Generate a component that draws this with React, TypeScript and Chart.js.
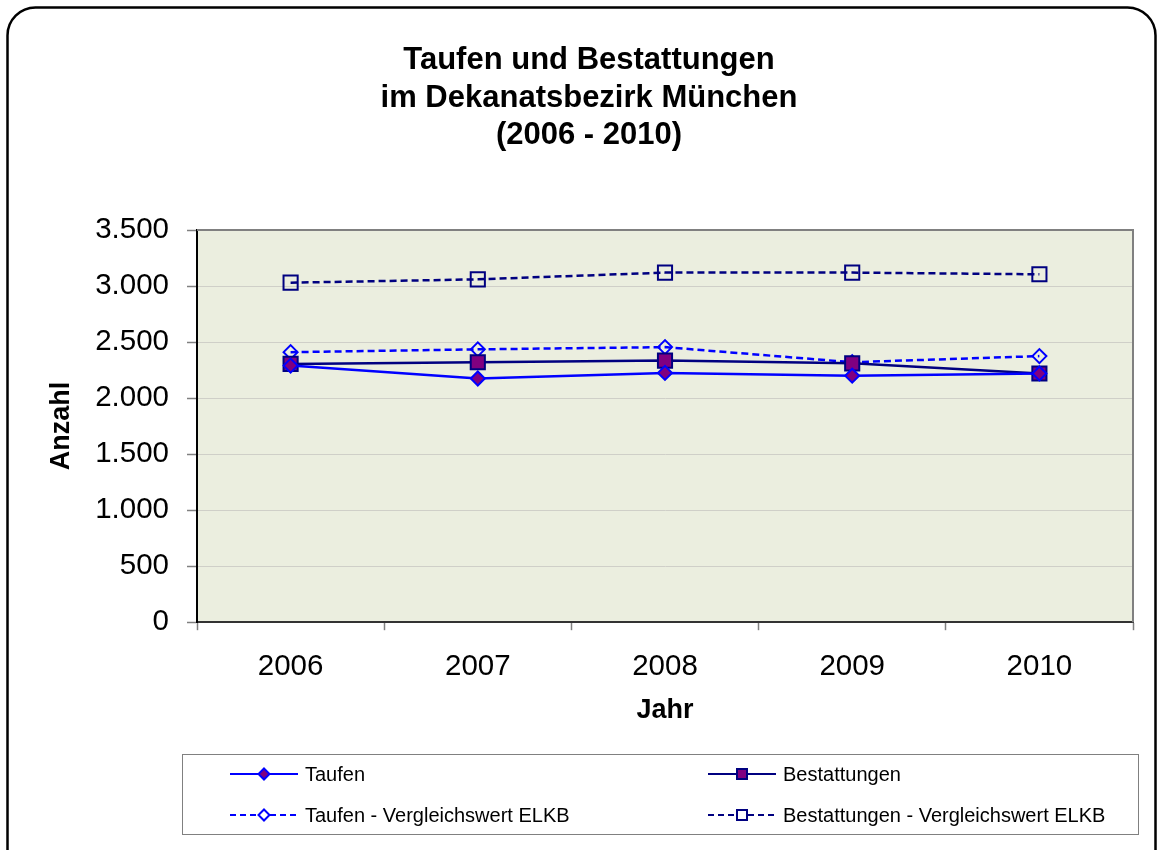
import React, { useEffect, useRef } from "react";
import { Chart, registerables } from "chart.js";

Chart.register(...registerables);

const years = ["2006", "2007", "2008", "2009", "2010"];
const taufen = [2290, 2175, 2225, 2200, 2220];
const bestattungen = [2305, 2320, 2335, 2310, 2220];
const taufenELKB = [2410, 2435, 2455, 2320, 2375];
const bestattungenELKB = [3030, 3060, 3120, 3120, 3105];
const seriesNames = [
  "Taufen",
  "Bestattungen",
  "Taufen - Vergleichswert ELKB",
  "Bestattungen - Vergleichswert ELKB",
];
const titleLines = ["Taufen und Bestattungen", "im Dekanatsbezirk München", "(2006 - 2010)"];
const yTitle = "Anzahl";
const xTitle = "Jahr";

const FONT = "'Liberation Sans', Arial, sans-serif";
const BLUE = "#0000FF";
const NAVY = "#000080";
const PURPLE = "#800080";

function fmt(v: number) {
  const s = Math.round(v).toString();
  return s.replace(/\B(?=(\d{3})+(?!\d))/g, ".");
}

const frameAndPlot = {
  id: "frameAndPlot",
  beforeDraw(chart: any) {
    const { ctx, chartArea } = chart;
    ctx.save();
    ctx.fillStyle = "#fff";
    ctx.fillRect(0, 0, chart.width, chart.height);
    ctx.strokeStyle = "#000";
    ctx.lineWidth = 2.5;
    ctx.beginPath();
    ctx.roundRect(7.5, 7.5, 1148, 900, 28);
    ctx.stroke();
    ctx.fillStyle = "#EBEEDF";
    ctx.fillRect(chartArea.left, chartArea.top, chartArea.right - chartArea.left, chartArea.bottom - chartArea.top);
    ctx.restore();
  },
  afterDatasetsDraw(chart: any) {
    const { ctx, chartArea } = chart;
    ctx.save();
    ctx.strokeStyle = "#808080";
    ctx.lineWidth = 2;
    ctx.beginPath();
    ctx.moveTo(chartArea.left, chartArea.top);
    ctx.lineTo(chartArea.right, chartArea.top);
    ctx.lineTo(chartArea.right, chartArea.bottom);
    ctx.stroke();
    ctx.restore();
  },
  afterDraw(chart: any) {
    const { ctx } = chart;
    ctx.save();
    ctx.strokeStyle = "#808080";
    ctx.lineWidth = 1;
    ctx.strokeRect(182.5, 754.5, 956, 80);
    const cols = [230, 708];
    const rows = [774, 815];
    chart.data.datasets.forEach((ds: any, i: number) => {
      const x = cols[i % 2];
      const y = rows[Math.floor(i / 2)];
      ctx.strokeStyle = ds.borderColor;
      ctx.lineWidth = 2;
      ctx.setLineDash(ds.borderDash ? [6, 4] : []);
      ctx.beginPath();
      ctx.moveTo(x, y);
      ctx.lineTo(x + 68, y);
      ctx.stroke();
      ctx.setLineDash([]);
      const cx = x + 34;
      ctx.beginPath();
      if (ds.pointStyle === "rectRot") {
        const r = 5.5;
        ctx.moveTo(cx, y - r);
        ctx.lineTo(cx + r, y);
        ctx.lineTo(cx, y + r);
        ctx.lineTo(cx - r, y);
        ctx.closePath();
      } else {
        ctx.rect(cx - 5, y - 5, 10, 10);
      }
      ctx.fillStyle = ds.pointBackgroundColor !== "transparent" ? ds.pointBackgroundColor : "#fff";
      ctx.fill();
      ctx.strokeStyle = ds.pointBorderColor;
      ctx.lineWidth = 2;
      ctx.stroke();
      ctx.fillStyle = "#000";
      ctx.font = `20px ${FONT}`;
      ctx.textBaseline = "middle";
      ctx.textAlign = "left";
      ctx.fillText(ds.label, x + 75, y + 1);
    });
    ctx.restore();
  },
};

export default function App() {
  const ref = useRef<HTMLCanvasElement>(null);
  useEffect(() => {
    if (!ref.current) return;
    const chart = new Chart(ref.current, {
      type: "line",
      data: {
        labels: years,
        datasets: [
          {
            label: seriesNames[0],
            data: taufen,
            borderColor: BLUE,
            borderWidth: 2.5,
            pointStyle: "rectRot",
            pointRadius: 7,
            pointBackgroundColor: PURPLE,
            pointBorderColor: BLUE,
            pointBorderWidth: 2,
            tension: 0,
          },
          {
            label: seriesNames[1],
            data: bestattungen,
            borderColor: NAVY,
            borderWidth: 2.5,
            pointStyle: "rect",
            pointRadius: 10,
            pointBackgroundColor: PURPLE,
            pointBorderColor: NAVY,
            pointBorderWidth: 2,
            tension: 0,
          },
          {
            label: seriesNames[2],
            data: taufenELKB,
            borderColor: BLUE,
            borderWidth: 2.5,
            borderDash: [7, 4],
            pointStyle: "rectRot",
            pointRadius: 7,
            pointBackgroundColor: "transparent",
            pointBorderColor: BLUE,
            pointBorderWidth: 2,
            tension: 0,
          },
          {
            label: seriesNames[3],
            data: bestattungenELKB,
            borderColor: NAVY,
            borderWidth: 2.5,
            borderDash: [7, 4],
            pointStyle: "rect",
            pointRadius: 10,
            pointBackgroundColor: "transparent",
            pointBorderColor: NAVY,
            pointBorderWidth: 2,
            tension: 0,
          },
        ],
      },
      options: {
        animation: false,
        responsive: false,
        maintainAspectRatio: false,
        layout: { padding: { left: 45, right: 25, top: 0, bottom: 123 } },
        plugins: {
          legend: { display: false },
          tooltip: { enabled: false },
          title: {
            display: true,
            text: titleLines,
            color: "#000",
            font: { family: FONT, size: 31, weight: "bold", lineHeight: 1.21 },
            padding: { top: 42, bottom: 75.5 },
          },
        },
        scales: {
          x: {
            offset: true,
            grid: {
              offset: true,
              drawOnChartArea: false,
              drawTicks: true,
              tickLength: 8,
              tickColor: "#808080",
              tickWidth: 1.5,
            },
            border: { display: true, color: "#333", width: 2 },
            ticks: { color: "#000", font: { family: FONT, size: 29.5 }, padding: 19, maxRotation: 0 },
            title: {
              display: true,
              text: xTitle,
              color: "#000",
              font: { family: FONT, size: 27, weight: "bold" },
              padding: { top: -9, bottom: 0 },
            },
          },
          y: {
            min: 0,
            max: 3500,
            afterFit(scale: any) {
              scale.width = 152;
            },
            grid: {
              color: "#CFCFC8",
              lineWidth: 1,
              drawTicks: true,
              tickLength: 10,
              tickColor: "#808080",
              tickWidth: 1.5,
            },
            border: { display: true, color: "#000", width: 2 },
            ticks: {
              stepSize: 500,
              color: "#000",
              font: { family: FONT, size: 29.5 },
              padding: 18,
              callback: (v: any) => fmt(Number(v)),
            },
            title: {
              display: true,
              text: yTitle,
              color: "#000",
              font: { family: FONT, size: 27, weight: "bold" },
              padding: { top: 0, bottom: 0 },
            },
          },
        },
      },
      plugins: [frameAndPlot],
    });
    return () => chart.destroy();
  }, []);
  return (
    <div style={{ position: "absolute", left: 0, top: 0, width: 1158, height: 850 }}>
      <canvas ref={ref} width={1158} height={850} style={{ width: 1158, height: 850, display: "block" }} />
    </div>
  );
}
